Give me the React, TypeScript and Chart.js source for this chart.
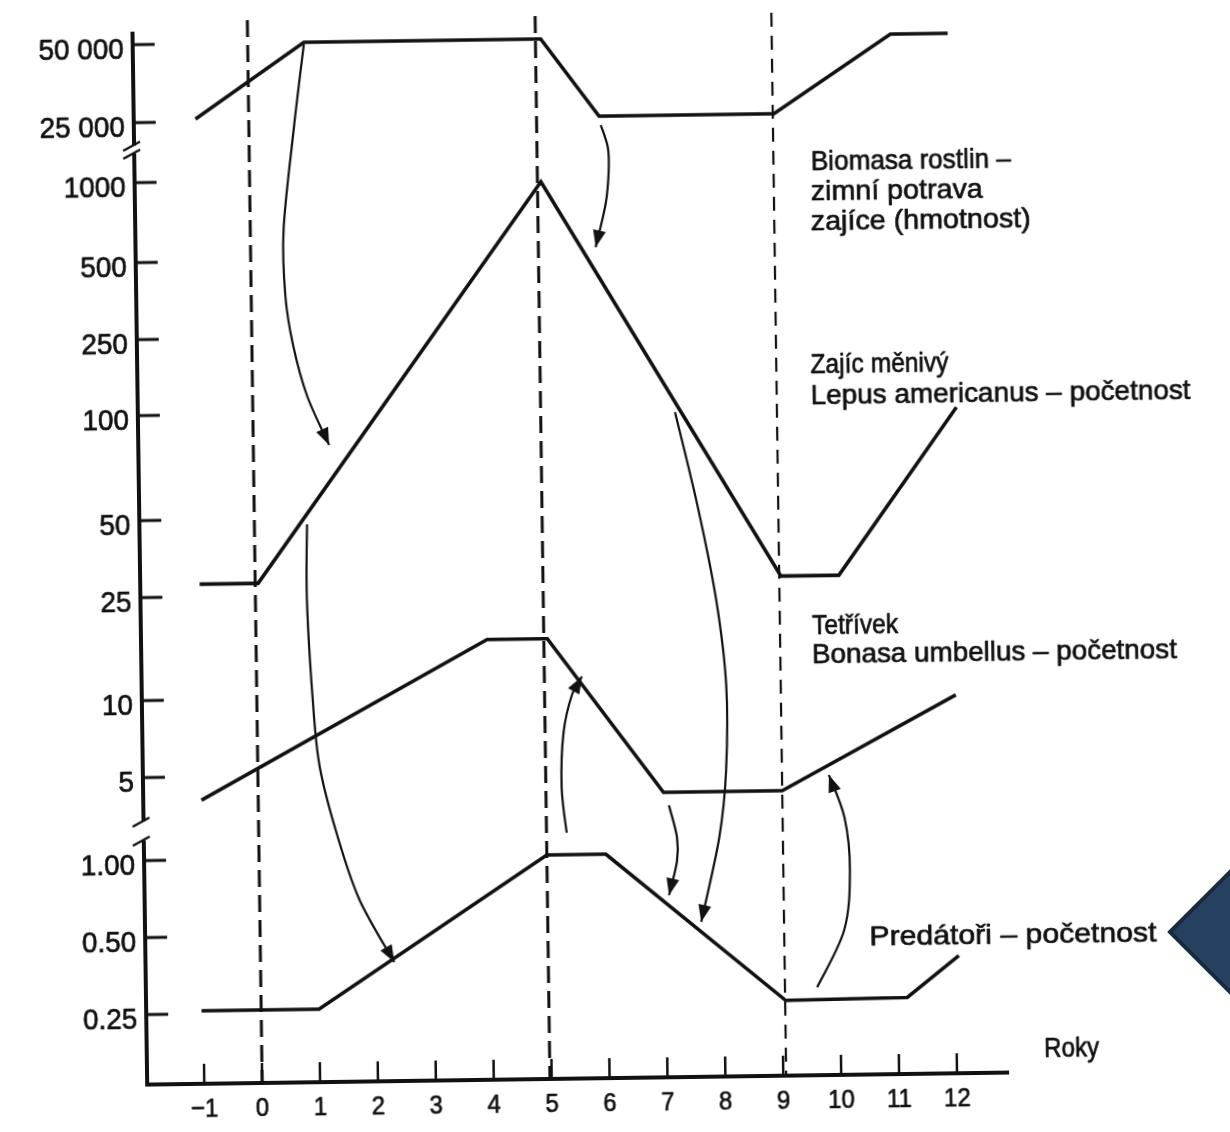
import React, { useEffect, useRef } from "react";
import { Chart, registerables } from "chart.js";

Chart.register(...registerables);

// ---------------- data ----------------
const yearTicks = [-1, 0, 1, 2, 3, 4, 5, 6, 7, 8, 9, 10, 11, 12];
const yearTickLabels = ["\u22121", "0", "1", "2", "3", "4", "5", "6", "7", "8", "9", "10", "11", "12"];

// broken vertical axis: tick labels, their values and their position on the axis (axis units above the time axis)
const axisTickLabels = ["50 000", "25 000", "1000", "500", "250", "100", "50", "25", "10", "5", "1.00", "0.50", "0.25"];
const axisTickValues = [50000, 25000, 1000, 500, 250, 100, 50, 25, 10, 5, 1, 0.5, 0.25];
const axisTickPositions = [1045, 967, 907, 827, 750, 674, 569, 492, 389, 312, 229, 152, 75];
const axisSegmentTicks = [
  [0.25, 0.5, 1],
  [5, 10, 25, 50, 100, 250, 500, 1000],
  [25000, 50000],
];
const axisSegmentSpans = [
  [3, 249],
  [268, 936],
  [944, 1058],
];
const timeAxisPosition = 5;

// series (year, value)
const biomassYears = [-0.92, 0.97, 5.06, 6.05, 9.07, 11.1, 12.09];
const biomassValues = [25600, 50000, 50000, 25000, 25000, 50000, 50000];

const hareYears = [-0.96, 0.05, 5.03, 9.08, 10.08, 12.15];
const hareValues = [28, 28, 960, 28, 28, 98];

const grouseYears = [-0.98, 3.99, 5.03, 7.0, 9.05, 12.07];
const grouseValues = [4.05, 16.5, 16.5, 4.1, 4.1, 9.5];

const predatorYears = [-1.03, 1.0, 4.97, 5.99, 9.06, 11.16, 12.06];
const predatorValues = [0.257, 0.257, 1.0, 1.0, 0.262, 0.265, 0.384];

const cycleBoundaryYears = [0, 4.97, 9.05];

// curved arrows: points [year, axis position] the curve passes through (arrowhead at the last point)
const arrowPaths: [number, number][][] = [
  [[0.97, 1043], [0.774, 958], [0.575, 858], [0.591, 791], [0.716, 741], [0.944, 691], [1.31, 642]],
  [[6.077, 958], [6.193, 936], [6.204, 913], [6.145, 880], [5.96, 836]],
  [[0.909, 563], [0.889, 488], [0.965, 388], [1.068, 321], [1.344, 254], [1.723, 187], [2.311, 124]],
  [[7.29, 670], [7.66, 575], [7.958, 481], [8.109, 396], [8.086, 311], [7.952, 244], [7.62, 160]],
  [[7.09, 277], [7.222, 245], [7.216, 221], [7.07, 187]],
  [[5.318, 251], [5.242, 297], [5.29, 352], [5.45, 390], [5.62, 407]],
  [[9.606, 93], [10.088, 150], [10.2, 209], [10.12, 262], [9.86, 305]],
];

// text labels: [text, year, axis position, target width]
const seriesLabels: [string, number, number, number][] = [
  ["Biomasa rostlin \u2013", 9.696, 918, 200],
  ["zimn\u00ed potrava", 9.687, 888, 172],
  ["zaj\u00edce (hmotnost)", 9.68, 858, 220],
  ["Zaj\u00edc m\u011bniv\u00fd", 9.642, 715, 138],
  ["Lepus americanus \u2013 po\u010detnost", 9.634, 684, 380],
  ["Tet\u0159\u00edvek", 9.606, 454, 86],
  ["Bonasa umbellus \u2013 po\u010detnost", 9.596, 425, 365],
  ["Pred\u00e1to\u0159i \u2013 po\u010detnost", 10.522, 142, 287],
];
const xAxisTitle = "Roky";

// ---------------- helpers ----------------
const tickPos = (v: number) => axisTickPositions[axisTickValues.indexOf(v)];

function axisPosition(v: number): number {
  const seg = v < 2.5 ? axisSegmentTicks[0] : v < 5000 ? axisSegmentTicks[1] : axisSegmentTicks[2];
  let i = 0;
  while (i < seg.length - 2 && v > seg[i + 1]) i++;
  const a = seg[i];
  const b = seg[i + 1];
  const pa = tickPos(a);
  const pb = tickPos(b);
  return pa + ((pb - pa) * Math.log(v / a)) / Math.log(b / a);
}

const series = [
  { label: "Biomasa rostlin", years: biomassYears, values: biomassValues },
  { label: "Zaj\u00edc m\u011bniv\u00fd", years: hareYears, values: hareValues },
  { label: "Tet\u0159\u00edvek", years: grouseYears, values: grouseValues },
  { label: "Pred\u00e1to\u0159i", years: predatorYears, values: predatorValues },
];

const INK = "#111";
const FONT = '"Liberation Sans", Arial, Helvetica, sans-serif';

function fitText(
  ctx: CanvasRenderingContext2D,
  text: string,
  x: number,
  y: number,
  size: number,
  align: CanvasTextAlign,
  width?: number,
  squeeze = 1
) {
  ctx.save();
  ctx.font = `${size}px ${FONT}`;
  ctx.textAlign = align;
  ctx.textBaseline = "middle";
  ctx.fillStyle = INK;
  ctx.strokeStyle = INK;
  ctx.lineWidth = 0.7;
  ctx.lineJoin = "round";
  let sx = squeeze;
  if (width) {
    const w = ctx.measureText(text).width;
    sx = Math.max(0.75, Math.min(1.2, width / w));
  }
  ctx.translate(x, y);
  ctx.scale(sx, 1);
  ctx.fillText(text, 0, 0);
  ctx.strokeText(text, 0, 0);
  ctx.restore();
}

type P = { x: number; y: number };

function drawArrow(ctx: CanvasRenderingContext2D, pts: P[]) {
  ctx.beginPath();
  ctx.moveTo(pts[0].x, pts[0].y);
  let lastC2: P = pts[0];
  for (let i = 0; i < pts.length - 1; i++) {
    const p0 = pts[i - 1] || pts[i];
    const p1 = pts[i];
    const p2 = pts[i + 1];
    const p3 = pts[i + 2] || pts[i + 1];
    const c1 = { x: p1.x + (p2.x - p0.x) / 6, y: p1.y + (p2.y - p0.y) / 6 };
    const c2 = { x: p2.x - (p3.x - p1.x) / 6, y: p2.y - (p3.y - p1.y) / 6 };
    ctx.bezierCurveTo(c1.x, c1.y, c2.x, c2.y, p2.x, p2.y);
    lastC2 = c2;
  }
  ctx.stroke();
  const tip = pts[pts.length - 1];
  let dx = tip.x - lastC2.x;
  let dy = tip.y - lastC2.y;
  const len = Math.hypot(dx, dy) || 1;
  dx /= len;
  dy /= len;
  const L = 17;
  const W = 6.5;
  const bx = tip.x - dx * L;
  const by = tip.y - dy * L;
  ctx.beginPath();
  ctx.moveTo(tip.x, tip.y);
  ctx.lineTo(bx - dy * W, by + dx * W);
  ctx.lineTo(bx + dy * W, by - dx * W);
  ctx.closePath();
  ctx.fill();
}

const decorPlugin = {
  id: "decor",
  beforeDatasetsDraw(chart: any) {
    const { ctx, scales } = chart;
    const xs = scales.x;
    const ys = scales.y;
    ctx.save();
    ctx.strokeStyle = INK;
    cycleBoundaryYears.forEach((yr, i) => {
      ctx.lineWidth = i === 2 ? 2.2 : 3;
      ctx.setLineDash(i === 2 ? [14, 9] : [17, 8]);
      const px = xs.getPixelForValue(yr);
      ctx.beginPath();
      ctx.moveTo(px, ys.getPixelForValue(1068));
      ctx.lineTo(px, ys.getPixelForValue(timeAxisPosition));
      ctx.stroke();
    });
    ctx.restore();
  },
  afterDatasetsDraw(chart: any) {
    const { ctx, scales, chartArea } = chart;
    const xs = scales.x;
    const ys = scales.y;
    const ax = chartArea.left;
    const base = ys.getPixelForValue(timeAxisPosition);
    ctx.save();
    ctx.strokeStyle = INK;
    ctx.fillStyle = INK;
    ctx.lineCap = "butt";

    // vertical axis, in broken segments
    ctx.lineWidth = 4;
    axisSegmentSpans.forEach(([a, b]) => {
      ctx.beginPath();
      ctx.moveTo(ax, ys.getPixelForValue(a));
      ctx.lineTo(ax, ys.getPixelForValue(b));
      ctx.stroke();
    });
    // break marks
    ctx.lineWidth = 2.5;
    for (let i = 0; i < axisSegmentSpans.length - 1; i++) {
      const yLow = ys.getPixelForValue(axisSegmentSpans[i][1]);
      const yHigh = ys.getPixelForValue(axisSegmentSpans[i + 1][0]);
      [yLow, yHigh].forEach((yy) => {
        ctx.beginPath();
        ctx.moveTo(ax - 11, yy + 5);
        ctx.lineTo(ax + 6, yy - 4);
        ctx.stroke();
      });
    }
    // y ticks and labels
    ctx.lineWidth = 3;
    axisTickPositions.forEach((pos, i) => {
      const py = ys.getPixelForValue(pos);
      ctx.beginPath();
      ctx.moveTo(ax, py);
      ctx.lineTo(ax + 22, py);
      ctx.stroke();
      fitText(ctx, axisTickLabels[i], ax - 9, py + 6, 30, "right", undefined, 0.93);
    });

    // time axis
    const right = chartArea.right;
    ctx.lineWidth = 4;
    ctx.beginPath();
    ctx.moveTo(ax - 2, base);
    ctx.lineTo(right, base);
    ctx.stroke();
    ctx.lineWidth = 2.5;
    yearTicks.forEach((yr, i) => {
      const px = xs.getPixelForValue(yr);
      ctx.beginPath();
      ctx.moveTo(px, base);
      ctx.lineTo(px, base - 20);
      ctx.stroke();
      fitText(ctx, yearTickLabels[i], px, base + 26, 26, "center", undefined, 0.92);
    });
    fitText(ctx, xAxisTitle, xs.getPixelForValue(13.51), ys.getPixelForValue(28), 28, "left", 55);

    // arrows
    ctx.lineWidth = 2.2;
    arrowPaths.forEach((path) => {
      drawArrow(
        ctx,
        path.map(([yr, pos]) => ({ x: xs.getPixelForValue(yr), y: ys.getPixelForValue(pos) }))
      );
    });

    // series labels
    seriesLabels.forEach(([t, yr, pos, w]) => {
      fitText(ctx, t, xs.getPixelForValue(yr), ys.getPixelForValue(pos), 28, "left", w);
    });
    ctx.restore();
  },
};

export default function App() {
  const canvasRef = useRef<HTMLCanvasElement | null>(null);

  useEffect(() => {
    const canvas = canvasRef.current;
    if (!canvas) return;
    const chart = new Chart(canvas, {
      type: "line",
      data: {
        datasets: series.map((s) => ({
          label: s.label,
          data: s.years.map((yr, i) => ({ x: yr, y: axisPosition(s.values[i]) })),
          borderColor: INK,
          backgroundColor: INK,
          borderWidth: 3.6,
          pointRadius: 0,
          tension: 0,
          fill: false,
          clip: false as any,
          borderJoinStyle: "miter" as const,
        })),
      },
      options: {
        responsive: false,
        animation: false,
        events: [],
        layout: { padding: { left: 140, right: 228, top: 5, bottom: 49 } },
        plugins: { legend: { display: false }, tooltip: { enabled: false } },
        scales: {
          x: { type: "linear", min: -1.986, max: 12.9, display: false },
          y: { type: "linear", min: 0, max: 1078, display: false },
        },
      },
      plugins: [decorPlugin],
    });
    return () => chart.destroy();
  }, []);

  return (
    <div
      style={{
        position: "absolute",
        left: 0,
        top: 0,
        width: 1230,
        height: 1132,
        overflow: "hidden",
        background: "#ffffff",
      }}
    >
      <canvas
        ref={canvasRef}
        width={1230}
        height={1132}
        style={{
          position: "absolute",
          left: 0,
          top: 0,
          width: 1230,
          height: 1132,
          transform: "rotate(-0.8deg)",
          transformOrigin: "615px 566px",
        }}
      />
      <svg
        width={1230}
        height={1132}
        style={{ position: "absolute", left: 0, top: 0, pointerEvents: "none" }}
      >
        <polygon points="1170,932 1236,866 1236,998" fill="#25415f" stroke="#172b43" strokeWidth={4} strokeLinejoin="miter" />
      </svg>
    </div>
  );
}
